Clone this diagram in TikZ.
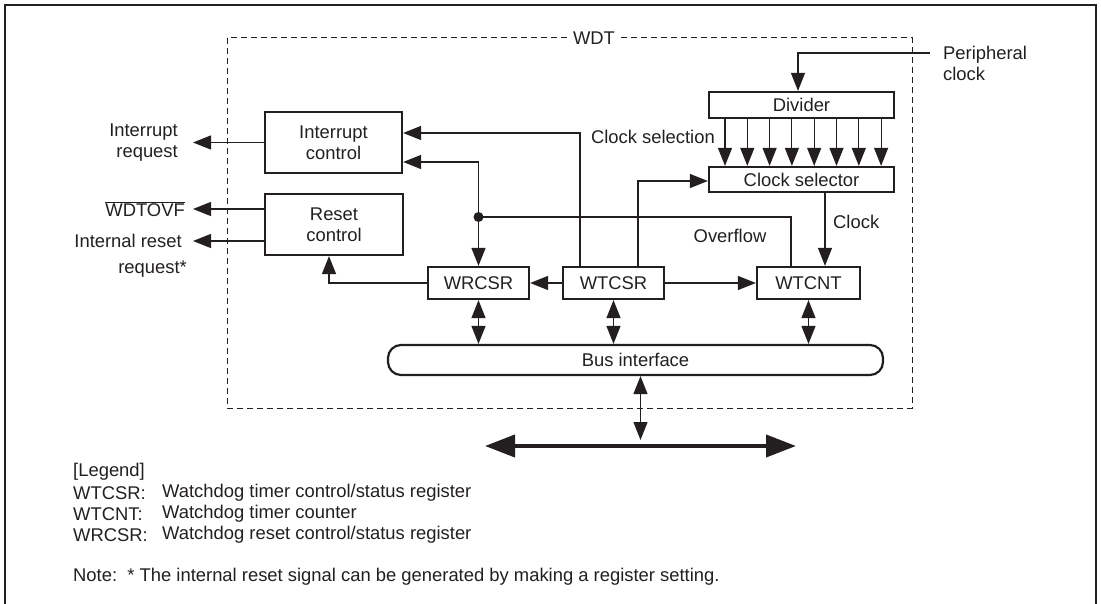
\documentclass[tikz,border=0pt]{standalone}
\usepackage{fontspec}
\setmainfont{Liberation Sans}
\usetikzlibrary{arrows.meta,calc}
\definecolor{ink}{HTML}{231F20}
\begin{document}
\begin{tikzpicture}[x=1pt,y=-1pt,
  font=\fontsize{18.4}{21}\selectfont,
  box/.style={draw=ink, line width=2.2pt, text=ink, inner sep=0pt, align=center},
  conn/.style={draw=ink, line width=1.1pt},
  tip/.style={-{Triangle[length=18pt,width=14pt]}},
  bitip/.style={{Triangle[length=18pt,width=14pt]}-{Triangle[length=18pt,width=14pt]}},
  lbl/.style={text=ink, inner sep=0pt},
  wdtline/.style={draw=ink, line width=1pt, dash pattern=on 6pt off 4pt}]
\useasboundingbox (0,0) rectangle (1101,604);
% outer frame
\draw[ink, line width=2.6pt] (5,604) -- (5,5) -- (1096,5) -- (1096,604);
% WDT dashed box
\draw[wdtline] (227,38) rectangle (912,408);
\node[lbl, fill=white, inner xsep=5pt, inner ysep=2pt] (wdt) at (594,38) {WDT};
% blocks
\node[box, minimum width=137pt, minimum height=61pt] (intc) at (333.5,142.5) {Interrupt\\control};
\node[box, minimum width=138pt, minimum height=61pt] (rst) at (334,224.5) {Reset\\control};
\node[box, minimum width=185pt, minimum height=26pt] (div) at (801.5,105) {Divider};
\node[box, minimum width=185pt, minimum height=25pt] (cs) at (801.5,179.5) {Clock selector};
\node[box, minimum width=101pt, minimum height=32pt] (wrcsr) at (478.5,283) {WRCSR};
\node[box, minimum width=101pt, minimum height=32pt] (wtcsr) at (613.5,283) {WTCSR};
\node[box, minimum width=103pt, minimum height=32pt] (wtcnt) at (808.5,283) {WTCNT};
\node[box, minimum width=495pt, minimum height=30pt, rounded corners=13pt] (bus) at (635.5,360) {Bus interface};
% external labels
\node[lbl, anchor=east, align=right] (irq) at (178,143) {Interrupt\\request};
\node[lbl, anchor=east] (wdtovf) at (185,209) {$\overline{\hbox{WDTOVF}}$};
\node[lbl, anchor=east] (irst) at (182,241) {Internal reset};
\node[lbl, anchor=east] (irst2) at (187,269) {request*};
\node[lbl, anchor=west, align=left] (pclk) at (943,63.5) {Peripheral\\clock};
\node[lbl, anchor=east] (csel) at (715,137) {Clock selection};
\node[lbl, anchor=west] (clk) at (833,222) {Clock};
\node[lbl] (ovf) at (730,236) {Overflow};
% free ends
\coordinate (irqend) at (193,142.5);
\coordinate (wdtend) at (193,209);
\coordinate (intend) at (193,241);
\coordinate (pc) at (930,53);
\coordinate (dot) at (478.5,217);
\coordinate (mainbus) at (640.5,446);
\coordinate (busL) at (485,446);
\coordinate (busR) at (796,446);
% outputs
\draw[conn,tip] (intc.west) -- (irqend);
\draw[conn,tip] ($(rst.west)+(0,-15.5)$) -- (wdtend);
\draw[conn,tip] ($(rst.west)+(0,16.5)$) -- (intend);
% peripheral clock
\draw[conn,tip] (pc) -| ($(div.north)+(-3.5,0)$);
% divider to clock selector
\foreach \dx in {-76.5,-54.2,-31.9,-9.6,12.7,35,57.3,79.6}
  \draw[conn,tip] ($(div.south)+(\dx,0)$) -- ($(cs.north)+(\dx,0)$);
% clock
\draw[conn,tip] ($(cs.south)+(23.5,0)$) -- ($(wtcnt.north)+(16.5,0)$);
% overflow
\draw[conn] ($(wtcnt.north)+(-17.5,0)$) |- (dot);
\draw[conn,tip] (dot) -- (wrcsr.north);
\draw[conn,tip] (dot) |- ($(intc.east)+(0,19.5)$);
\fill[ink] (dot) circle (5);
% WTCSR connections
\draw[conn,tip] ($(wtcsr.north)+(-33.5,0)$) |- ($(intc.east)+(0,-9.5)$);
\draw[conn,tip] ($(wtcsr.north)+(24.5,0)$) |- ($(cs.west)+(0,1.5)$);
\draw[conn,tip] (wtcsr.west) -- (wrcsr.east);
\draw[conn,tip] (wtcsr.east) -- (wtcnt.west);
\draw[conn,tip] (wrcsr.west) -| ($(rst.south)+(-5,0)$);
% bus connections
\draw[conn,bitip] (wrcsr.south) -- (wrcsr.south |- bus.north);
\draw[conn,bitip] (wtcsr.south) -- (wtcsr.south |- bus.north);
\draw[conn,bitip] (wtcnt.south) -- (wtcnt.south |- bus.north);
\draw[conn,bitip] ($(bus.south)+(5,0)$) -- ($(mainbus)+(0,-6)$);
\draw[draw=ink, line width=4pt, {Triangle[length=30pt,width=22pt]}-{Triangle[length=30pt,width=22pt]}] (busL) -- (busR);
% legend
\node[lbl, anchor=west] (lg) at (73,472) {[Legend]};
\node[lbl, anchor=west] (lg1) at (73,493) {WTCSR:};
\node[lbl, anchor=west] (lg1d) at (162,493) {Watchdog timer control/status register};
\node[lbl, anchor=west] (lg2) at (73,514) {WTCNT:};
\node[lbl, anchor=west] (lg2d) at (162,514) {Watchdog timer counter};
\node[lbl, anchor=west] (lg3) at (73,535) {WRCSR:};
\node[lbl, anchor=west] (lg3d) at (162,535) {Watchdog reset control/status register};
\node[lbl, anchor=west] (note) at (73,577) {Note:\ \ * The internal reset signal can be generated by making a register setting.};
\end{tikzpicture}
\end{document}
